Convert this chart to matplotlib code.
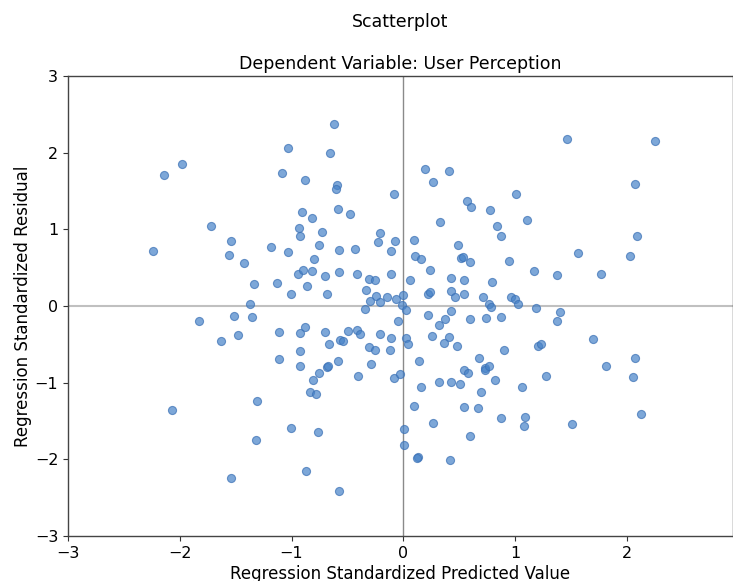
import matplotlib
matplotlib.use("Agg")
import matplotlib.pyplot as plt
import numpy as np

predicted = [
    -1.03, -1.984, -2.145, -1.084, -1.725, -1.543, -2.243, -1.558, -1.427, -1.182,
    -1.03, -1.340, -1.129, -1.003, -1.370,
    -0.624, -0.657, -0.878, -0.589, -0.604, -0.079, -0.908, -0.583, -0.481, -0.818,
    -0.935, -0.920, -0.723, -0.753, -0.571, -0.428, -0.204, -0.222, -0.073, -0.106,
    -0.795, -0.941, -0.896, -0.816, -0.571, -0.702, -0.410, -0.311, -0.255, -0.112,
    -0.863, -0.687, -0.333, -0.240, -0.150, -0.300, -0.207, -0.067, -0.007, -0.013,
    0.192, 0.413, 0.270, 0.568, 0.607, 0.777, 0.329, 0.839, 0.872, 0.097,
    0.485, 0.106, 0.154, 0.514, 0.532, 0.601, 0.950, 0.237, 0.064, 0.431,
    0.541, 0.794, 0.225, 0.240, 0.431, 0.463, 0.547, 0.711, 0.771, 0.789,
    0.965,
    1.462, 2.252, 2.077, 1.009, 1.105, 2.091, 1.562, 2.026, 1.165, 1.379,
    1.767, 1.003, 1.022,
    1.191, 1.406, 1.373, 1.695, 1.203, 1.230, 2.071, 1.814, 2.059, 1.281,
    1.060, 2.131, 1.087, 1.078, 1.513,
    -1.829, -1.519, -1.358, -1.483, -1.630, -1.111, -1.111, -1.310, -2.068, -1.003,
    -1.322, -1.543,
    0.025, -0.344, 0.219, 0.425, 0.374, 0.318, 0.601, 0.744, 0.878, -0.049,
    -0.926, -0.878, -0.702, -0.499, -0.416, -0.383, -0.210, -0.112, 0.025, 0.043,
    0.258, 0.407, 0.360, 0.479, -0.663, -0.568, -0.538, -0.309, -0.249, -0.115,
    0.899, -0.923, -0.926, -0.687, -0.675, -0.583, -0.293, -0.404, -0.753, -0.812,
    -0.834, -0.777, 0.141, -0.082, -0.029, 0.154, 0.318, 0.431, 0.505, 0.678,
    0.541, 0.583, 0.735, 0.732, 0.771, 0.821, 0.691, 0.547, 0.666, 0.872,
    0.094, 0.270, 0.595, 0.004, 0.004, 0.130, 0.120, 0.419, -0.759, -0.872,
    -0.571,
]

residual = [
    2.06, 1.848, 1.713, 1.735, 1.047, 0.844, 0.713, 0.665, 0.557, 0.766,
    0.702, 0.283, 0.296, 0.153, 0.022,
    2.370, 2.000, 1.639, 1.574, 1.526, 1.461, 1.230, 1.269, 1.204, 1.144,
    1.013, 0.917, 0.965, 0.796, 0.730, 0.748, 0.957, 0.835, 0.844, 0.722,
    0.617, 0.417, 0.465, 0.456, 0.448, 0.387, 0.417, 0.352, 0.335, 0.417,
    0.265, 0.152, 0.204, 0.126, 0.113, 0.065, 0.048, 0.096, 0.143, 0.017,
    1.783, 1.761, 1.613, 1.365, 1.291, 1.252, 1.091, 1.043, 0.909, 0.857,
    0.796, 0.652, 0.617, 0.630, 0.643, 0.578, 0.587, 0.474, 0.335, 0.369,
    0.343, 0.313, 0.161, 0.178, 0.200, 0.121, 0.152, 0.121, 0.026, -0.009,
    0.121,
    2.174, 2.152, 1.591, 1.461, 1.117, 0.909, 0.691, 0.652, 0.456, 0.409,
    0.417, 0.087, 0.030,
    -0.030, -0.078, -0.200, -0.435, -0.522, -0.500, -0.683, -0.778, -0.922, -0.913,
    -1.052, -1.413, -1.448, -1.565, -1.543,
    -0.191, -0.126, -0.143, -0.378, -0.457, -0.343, -0.696, -1.235, -1.357, -1.593,
    -1.743, -2.239,
    -0.052, -0.039, -0.113, -0.070, -0.170, -0.248, -0.170, -0.161, -0.143, -0.191,
    -0.352, -0.274, -0.343, -0.330, -0.313, -0.361, -0.370, -0.417, -0.417, -0.500,
    -0.387, -0.409, -0.483, -0.522, -0.500, -0.439, -0.461, -0.530, -0.578, -0.578,
    -0.578, -0.587, -0.787, -0.796, -0.787, -0.717, -0.757, -0.909, -0.870, -0.965,
    -1.117, -1.148, -0.717, -0.939, -0.891, -1.061, -0.987, -0.991, -1.013, -0.674,
    -0.830, -0.878, -0.809, -0.835, -0.787, -0.965, -1.126, -1.317, -1.326, -1.465,
    -1.304, -1.526, -1.696, -1.600, -1.809, -1.965, -1.985, -2.009, -1.639, -2.152,
    -2.417,
]

x_ticks = [-3, -2, -1, 0, 1, 2]
y_ticks = [-3, -2, -1, 0, 1, 2, 3]

W, H = 733, 581
fig = plt.figure(figsize=(W / 100, H / 100), dpi=100)
ax = fig.add_axes([68 / W, (H - 536) / H, (733 - 68) / W, (536 - 76) / H])

ax.axhline(0, color="#c0c0c0", linewidth=1.5, zorder=1)
ax.axvline(0, color="#8a8a8a", linewidth=1.0, zorder=1)
ax.scatter(predicted, residual, s=34, color="#4682c8", alpha=0.7,
           edgecolors="#3a70b5", linewidths=0.8, zorder=2)

ax.set_xlim(-3, 2.95)
ax.set_ylim(-3, 3)
ax.set_xticks(x_ticks)
ax.set_yticks(y_ticks)
ax.tick_params(labelsize=11.5, color="#333333", length=3.5)
for sp in ax.spines.values():
    sp.set_color("#444444")
    sp.set_linewidth(1.0)

ax.set_title("Scatterplot\n\nDependent Variable: User Perception", fontsize=12.5, pad=5)
ax.set_xlabel("Regression Standardized Predicted Value", fontsize=12, labelpad=3)
ax.set_ylabel("Regression Standardized Residual", fontsize=12, labelpad=2)

fig.savefig("out.png", dpi=100)
